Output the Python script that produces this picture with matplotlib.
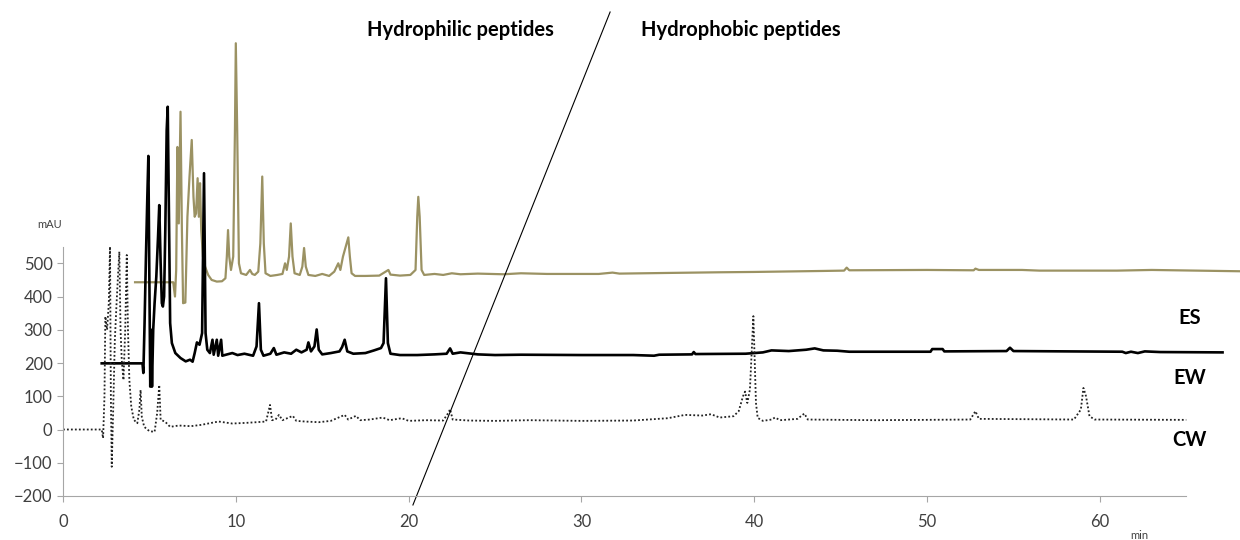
import matplotlib
matplotlib.use("Agg")
import matplotlib.pyplot as plt

plt.rcParams['font.family'] = ['Lato', 'DejaVu Sans']

# ES trace (olive), time in min, absorbance in mAU
es_t = [4.17, 6.38, 6.48, 6.55, 6.62, 6.70, 6.80, 6.88, 6.95, 7.08, 7.20, 7.32, 7.45,
        7.55, 7.62, 7.70, 7.79, 7.86, 7.93, 8.00, 8.10, 8.22, 8.40, 8.60, 8.90, 9.20,
        9.40, 9.48, 9.55, 9.62, 9.72, 9.85, 9.95, 10.00, 10.08, 10.18, 10.30, 10.60,
        10.82, 10.95, 11.10, 11.30, 11.42, 11.53, 11.62, 11.72, 12.00, 12.40, 12.70,
        12.85, 12.95, 13.08, 13.18, 13.28, 13.40, 13.70, 13.85, 13.95, 14.05, 14.20,
        14.60, 15.00, 15.40, 15.70, 15.93, 16.05, 16.20, 16.51, 16.60, 16.70, 16.90,
        17.50, 18.30, 18.83, 18.95, 19.50, 20.10, 20.40, 20.50, 20.56, 20.64, 20.75,
        20.90, 21.5, 22.0, 22.5, 23.0, 24.0, 25.5, 26.5, 28.0, 31.0, 31.8, 32.2, 35.0,
        38.0, 40.0, 44.0, 45.2, 45.35, 45.5, 50.0, 52.7, 52.8, 53.0, 55.5, 56.5, 61.0,
        63.0, 68.2]
es_v = [443, 443, 400, 480, 850, 620, 956, 600, 380, 382, 640, 760, 871,
        700, 640, 650, 756, 640, 741, 600, 520, 490, 465, 450, 445, 446,
        455, 520, 600, 520, 480, 520, 900, 1162, 900, 500, 470, 465,
        480, 468, 465, 475, 560, 761, 560, 470, 462, 465, 468,
        500, 480, 520, 620, 520, 470, 465, 490, 546, 490, 465,
        462, 468, 462, 475, 500, 480, 520, 578, 520, 470, 462,
        462, 463, 480, 466, 463, 465, 480, 640, 700, 640, 480,
        465, 468, 465, 470, 467, 469, 467, 470, 468, 468, 472, 469, 471,
        473, 474, 477, 478, 487, 479, 480, 479, 484, 480, 480, 478, 478,
        480, 476]

# EW trace (solid black)
ew_t = [2.24, 4.60, 4.65, 4.72, 4.80, 4.88, 4.94, 4.99, 5.05, 5.10, 5.15, 5.22, 5.30,
        5.40, 5.50, 5.57, 5.65, 5.72, 5.78, 5.85, 5.92, 6.00, 6.06, 6.12, 6.20, 6.30,
        6.50, 6.80, 7.10, 7.35, 7.50, 7.62, 7.75, 7.90, 8.05, 8.16, 8.25, 8.35, 8.50,
        8.65, 8.72, 8.90, 8.98, 9.15, 9.22, 9.5, 9.8, 10.1, 10.5, 11.0, 11.20, 11.34,
        11.45, 11.60, 12.0, 12.2, 12.35, 12.8, 13.2, 13.5, 13.8, 14.1, 14.2, 14.35,
        14.55, 14.68, 14.8, 15.0, 15.5, 16.0, 16.15, 16.30, 16.45, 16.8, 17.5, 18.0,
        18.4, 18.55, 18.69, 18.80, 18.95, 19.5, 20.5, 21.5, 22.2, 22.4, 22.55, 23.0,
        24.0, 25.0, 26.5, 30.0, 33.0, 34.2, 34.5, 36.4, 36.5, 36.6, 39.5, 40.5, 41.0,
        42.0, 43.0, 43.5, 44.0, 44.8, 45.5, 50.2, 50.3, 50.9, 51.0, 54.6, 54.8, 55.0,
        61.3, 61.5, 61.8, 62.2, 62.6, 63.5, 67.1]
ew_v = [199, 199, 170, 320, 520, 700, 823, 500, 129, 300, 129, 300, 380,
        460, 580, 675, 500, 380, 370, 400, 600, 900, 971, 700, 320, 260,
        230, 215, 205, 210, 204, 230, 262, 255, 290, 771, 290, 240, 230,
        270, 225, 270, 222, 270, 222, 226, 230, 224, 228, 222, 250, 380,
        240, 222, 228, 245, 225, 232, 228, 240, 232, 240, 262, 235,
        250, 301, 240, 226, 230, 235, 248, 270, 235, 228, 230, 238,
        245, 260, 455, 260, 228, 224, 224, 226, 228, 244, 228, 232,
        226, 224, 225, 224, 224, 222, 225, 226, 233, 227, 228, 232, 238,
        236, 240, 244, 238, 237, 234, 234, 242, 242, 235, 236, 246, 236,
        234, 230, 234, 230, 235, 233, 232]

# CW trace (dotted)
cw_t = [0.0, 2.24, 2.32, 2.40, 2.45, 2.55, 2.65, 2.72, 2.77, 2.82, 2.90, 3.00, 3.10,
        3.20, 3.26, 3.33, 3.40, 3.50, 3.60, 3.69, 3.76, 3.84, 3.95, 4.10, 4.30, 4.42,
        4.49, 4.56, 4.70, 5.00, 5.30, 5.45, 5.57, 5.65, 5.90, 6.20, 6.7, 7.4, 8.0, 9.0,
        9.8, 10.6, 11.2, 11.75, 11.98, 12.1, 12.3, 12.5, 12.7, 13.3, 13.5, 14.0, 14.8,
        15.5, 16.3, 16.5, 16.95, 17.2, 17.75, 18.5, 18.9, 19.6, 20.0, 21.0, 22.0, 22.3,
        22.4, 22.55, 23.5, 25.0, 27.0, 30.0, 33.0, 35.0, 36.0, 37.0, 37.5, 38.0, 38.8,
        39.1, 39.35, 39.47, 39.6, 39.75, 39.95, 40.1, 40.2, 40.5, 41.0, 41.2, 41.5,
        42.5, 42.9, 43.1, 47.0, 52.5, 52.8, 53.0, 58.5, 58.9, 59.05, 59.2, 59.4, 59.7,
        65.0]
cw_v = [0, 0, -26, 100, 340, 300, 380, 550, 100, -112, 50, 270, 380,
        480, 535, 300, 209, 149, 300, 525, 300, 149, 69, 29, 19, 60,
        119, 38, 8, -5, -7, 50, 134, 29, 24, 8, 12, 10, 14, 24,
        18, 20, 22, 24, 74, 28, 30, 44, 28, 41, 26, 24, 22,
        26, 44, 30, 41, 28, 30, 36, 28, 34, 26, 28, 27, 50,
        61, 30, 27, 26, 28, 26, 27, 34, 44, 42, 46, 36, 40,
        55, 100, 114, 80, 120, 341, 80, 35, 26, 30, 36, 28,
        32, 48, 30, 28, 30, 55, 32, 30, 60, 125, 100, 40, 30,
        29]

y_ticks = [-200, -100, 0, 100, 200, 300, 400, 500]
x_ticks = [0, 10, 20, 30, 40, 50, 60]

# divider between hydrophilic / hydrophobic regions
div_t = [20.25, 31.66]
div_v = [-227, 1256]

fig = plt.figure(figsize=(12.4, 5.4), dpi=100)
ax = fig.add_axes([63 / 1240, 0.0815, 1177 / 1240, 0.9172])

ax.plot(es_t, es_v, color='#9b9263', lw=1.6)
ax.plot(ew_t, ew_v, color='black', lw=1.9)
ax.plot(cw_t, cw_v, color='#222222', lw=1.3, ls=(0, (1, 1.2)))
ax.plot(div_t, div_v, color='black', lw=0.8, clip_on=False)

ax.set_xlim(0, 68.11)
ax.set_ylim(-200, 1290)

for s in ['top', 'right']:
    ax.spines[s].set_visible(False)
ax.spines['left'].set_bounds(-200, 550)
ax.spines['bottom'].set_bounds(0, 65)
ax.spines['left'].set_color('#a6a6a6')
ax.spines['bottom'].set_color('#a6a6a6')

ax.set_yticks(y_ticks)
ax.set_xticks(x_ticks)
ax.tick_params(axis='both', colors='#a6a6a6', labelcolor='#404040',
               labelsize=12, length=4)
ax.tick_params(axis='x', pad=9)

ax.text(-0.75, 618, 'mAU', fontsize=8, color='#404040', ha='center', va='center',
        clip_on=False)
ax.text(62.3, -318, 'min', fontsize=8, color='#404040', ha='center', va='center',
        clip_on=False)

ax.text(23.0, 1202, 'Hydrophilic peptides', fontsize=14.5, fontweight='bold',
        ha='center', va='center')
ax.text(39.2, 1202, 'Hydrophobic peptides', fontsize=14.5, fontweight='bold',
        ha='center', va='center')

ax.text(65.2, 335, 'ES', fontsize=14.5, fontweight='bold', ha='center', va='center')
ax.text(65.2, 155, 'EW', fontsize=14.5, fontweight='bold', ha='center', va='center')
ax.text(65.2, -32, 'CW', fontsize=14.5, fontweight='bold', ha='center', va='center')

fig.savefig('out.png', dpi=100)
